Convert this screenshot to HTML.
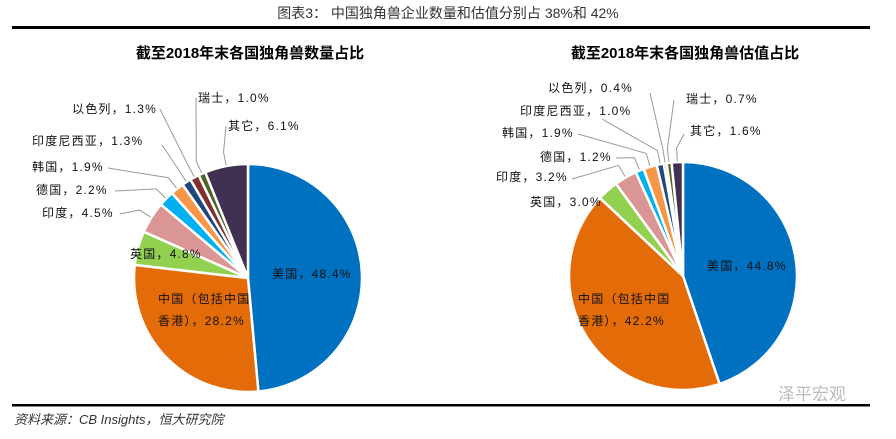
<!DOCTYPE html>
<html><head><meta charset="utf-8"><style>
body{margin:0;background:#fff;width:896px;height:434px;overflow:hidden;font-family:"Liberation Sans","Noto Sans CJK SC",sans-serif}
svg text{font-family:"Liberation Sans","Noto Sans CJK SC",sans-serif}
</style></head><body>
<svg id="c" width="896" height="434">
<text x="448" y="18" text-anchor="middle" font-size="14" fill="#333" font-family="Liberation Serif,Noto Serif CJK SC,serif">图表3：    中国独角兽企业数量和估值分别占 38%和 42%</text>
<rect x="12" y="26" width="858" height="3" fill="#000"/>
<text x="250" y="58" text-anchor="middle" font-size="15" font-weight="bold">截至2018年末各国独角兽数量占比</text>
<text x="685" y="58" text-anchor="middle" font-size="15" font-weight="bold">截至2018年末各国独角兽估值占比</text>
<rect x="12" y="404" width="858" height="2.5" fill="#000"/>
<text x="14" y="424" font-size="13" font-style="italic" fill="#333">资料来源：CB Insights，恒大研究院</text>
<text x="778" y="400" font-size="17" fill="#bbb">泽平宏观</text>
<g id="L"></g><g id="R"></g>
</svg>
<script>
const categories=["美国","中国","英国","印度","德国","韩国","印度尼西亚","以色列","瑞士","其它"];
const countShare=[48.4,28.2,4.8,4.5,2.2,1.9,1.3,1.3,1.0,6.1];
const valueShare=[44.8,42.2,3.0,3.2,1.2,1.9,1.0,0.4,0.7,1.6];
const colors=["#0070C0","#E36C09","#92D050","#D99694","#00B0F0","#F79646","#1F497D","#7F2F2F","#4F6228","#403152"];
const NS="http://www.w3.org/2000/svg";
function mk(t,a,p){const e=document.createElementNS(NS,t);for(const k in a)e.setAttribute(k,a[k]);p.appendChild(e);return e;}
function pt(cx,cy,r,f){const a=f*2*Math.PI;return [cx+r*Math.sin(a),cy-r*Math.cos(a)];}
function drawPie(g,vals,cx,cy,r,labels){
  const tot=vals.reduce((a,b)=>a+b,0);let acc=0;
  const sg=mk("g",{},g),lg=mk("g",{},g);
  vals.forEach((v,i)=>{
    const f0=acc/tot,f1=(acc+v)/tot;acc+=v;
    const p0=pt(cx,cy,r,f0),p1=pt(cx,cy,r,f1);
    const big=(f1-f0)>0.5?1:0;
    const path=mk("path",{d:`M${cx},${cy}L${p0[0]},${p0[1]}A${r},${r} 0 ${big} 1 ${p1[0]},${p1[1]}Z`,fill:colors[i],stroke:"#fff","stroke-width":2.5},sg);
    
    
    const L=labels[i];
    if(L[2]!==null){
      const m=pt(cx,cy,r+1,(f0+f1)/2),e=pt(cx,cy,r+14,(f0+f1)/2);
      const ln=mk("polyline",{points:`${L[2]},${L[3]} ${e[0]},${e[1]} ${m[0]},${m[1]}`,fill:"none",stroke:"#999","stroke-width":1},sg);
      
      
    }
    const t=mk("text",{x:L[0],y:L[1],"font-size":12,"letter-spacing":"1.2",fill:"#111"},lg);
    t.textContent=L[4];
    
    
    if(L[5]){const t2=mk("text",{x:L[0],y:L[1]+22,"font-size":12,"letter-spacing":"1.2",fill:"#111"},lg);t2.textContent=L[5];
      
      }
  });
}
const fmt=(c,v)=>c+"，"+v.toFixed(1)+"%";
drawPie(document.getElementById("L"),countShare,248,278,114,[
 [272,278,null,null,fmt(categories[0],countShare[0])],
 [158,303,null,null,"中国（包括中国","香港），"+countShare[1].toFixed(1)+"%"],
 [130,258,null,null,fmt(categories[2],countShare[2])],
 [42,217,120,214,fmt(categories[3],countShare[3])],
 [36,194,115,191,fmt(categories[4],countShare[4])],
 [32,171,108,168,fmt(categories[5],countShare[5])],
 [32,145,162,145,fmt(categories[6],countShare[6])],
 [72,113,160,109,fmt(categories[7],countShare[7])],
 [198,102,196,98,fmt(categories[8],countShare[8])],
 [228,130,226,126,fmt(categories[9],countShare[9])]
]);
drawPie(document.getElementById("R"),valueShare,683,276,114,[
 [707,270,null,null,fmt(categories[0],valueShare[0])],
 [578,303,null,null,"中国（包括中国","香港），"+valueShare[1].toFixed(1)+"%"],
 [530,206,null,null,fmt(categories[2],valueShare[2])],
 [496,181,572,179,fmt(categories[3],valueShare[3])],
 [540,161,616,158,fmt(categories[4],valueShare[4])],
 [502,137,578,134,fmt(categories[5],valueShare[5])],
 [520,115,602,119,fmt(categories[6],valueShare[6])],
 [548,92,650,93,fmt(categories[7],valueShare[7])],
 [686,103,674,100,fmt(categories[8],valueShare[8])],
 [690,135,684,134,fmt(categories[9],valueShare[9])]
]);
</script>
</body></html>
